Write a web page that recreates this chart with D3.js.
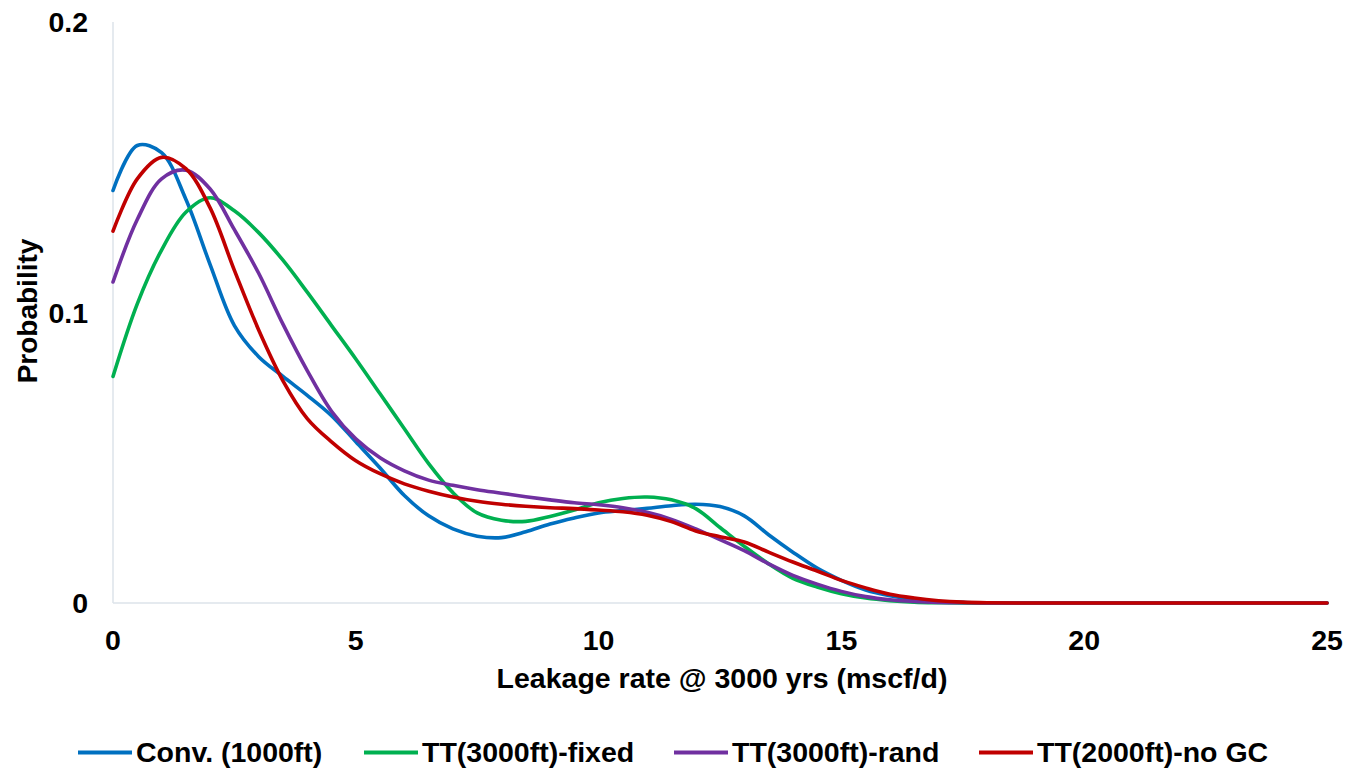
<!DOCTYPE html>
<html><head><meta charset="utf-8">
<script src="https://cdn.jsdelivr.net/npm/d3@7"></script>
<style>body{margin:0;background:#fff}svg{display:block}text{font-family:Arial,"Liberation Sans",sans-serif;font-weight:bold;fill:#000}</style>
</head><body><svg id="c" width="1347" height="770"></svg>
<script>
const xs = [0,0.5,1,1.5,2,2.5,3,3.5,4,4.5,5,5.5,6,6.5,7,7.5,8,8.5,9,9.5,10,10.5,11,11.5,12,12.5,13,13.5,14,14.5,15,15.5,16,16.5,17,17.5,18,19,20,21,22,23,24,25];
const seriesNames = ["Conv. (1000ft)","TT(3000ft)-fixed","TT(3000ft)-rand","TT(2000ft)-no GC"];
const conv = [.142,.1575,.155,.139,.1165,.0955,.0848,.078,.0715,.0645,.0555,.0465,.037,.030,.0255,.023,.0225,.0245,.0272,.0293,.031,.0318,.0326,.0335,.034,.0332,.030,.0235,.0175,.012,.0078,.0045,.0025,.0012,.0005,.0002,0,0,0,0,0,0,0,0];
const fixed = [.078,.103,.1215,.1345,.1395,.135,.1275,.118,.107,.0955,.084,.072,.060,.048,.038,.031,.0285,.0281,.0298,.032,.0345,.036,.0365,.0355,.0325,.026,.0195,.0135,.0085,.0055,.0032,.0017,.0008,.0003,.0001,0,0,0,0,0,0,0,0,0];
const rand = [.1105,.132,.146,.149,.1425,.1285,.1135,.096,.080,.066,.0565,.050,.0455,.0423,.0405,.039,.0378,.0366,.0355,.0345,.0338,.0328,.0312,.0288,.0255,.0218,.018,.0135,.0095,.0065,.004,.0022,.0011,.0005,.0002,.0001,0,0,0,0,0,0,0,0];
const noGC = [.128,.146,.1534,.1495,.136,.1145,.094,.0765,.0635,.0555,.049,.0445,.041,.0385,.0365,.035,.034,.0333,.0328,.0325,.032,.0314,.0302,.028,.0248,.0228,.021,.0175,.0141,.011,.0078,.0052,.003,.0017,.0008,.0003,.0001,0,0,0,0,0,0,0];
const colors = ["#0070C0","#00B050","#7030A0","#C00000"];
const xTicks = [0,5,10,15,20,25];
const yTicks = [0,0.1,0.2];
const yTickLabels = ["0","0.1","0.2"];

const svg = d3.select("#c");
const x = d3.scaleLinear().domain([0,25]).range([113,1327]);
const y = d3.scaleLinear().domain([0,0.2]).range([603,22]);

svg.append("line").attr("x1",x(0)).attr("x2",x(0)).attr("y1",y(0.2)).attr("y2",y(0)).attr("stroke","#dde3ea").attr("stroke-width",1.5);
svg.append("line").attr("x1",x(0)).attr("x2",x(25)).attr("y1",y(0)).attr("y2",y(0)).attr("stroke","#dde3ea").attr("stroke-width",1.5);

svg.selectAll(".xt").data(xTicks).enter().append("text").attr("x",d=>x(d)).attr("y",650).attr("text-anchor","middle").style("font-size","28.5px").text(d=>d);
svg.selectAll(".yt").data(yTicks).enter().append("text").attr("x",88).attr("y",d=>y(d)+10).attr("text-anchor","end").style("font-size","28.5px").text((d,i)=>yTickLabels[i]);

svg.append("text").attr("x",722).attr("y",688).attr("text-anchor","middle").style("font-size","28.5px").text("Leakage rate @ 3000 yrs (mscf/d)");
svg.append("text").attr("transform","translate(37,311) rotate(-90)").attr("text-anchor","middle").style("font-size","28px").text("Probability");

const all = [conv,fixed,rand,noGC];
const line = d3.line().x((d,i)=>x(xs[i])).y(d=>y(Math.max(0,d))).curve(d3.curveCatmullRom.alpha(0.5));
all.forEach((s,k)=>{
  svg.append("path").attr("d",line(s)).attr("fill","none").attr("stroke",colors[k]).attr("stroke-width",3.6).attr("stroke-linecap","round").attr("stroke-linejoin","round");
});

const legX = [78,364,674,979];
seriesNames.forEach((n,k)=>{
  svg.append("line").attr("x1",legX[k]).attr("x2",legX[k]+54).attr("y1",752.5).attr("y2",752.5).attr("stroke",colors[k]).attr("stroke-width",4);
  svg.append("text").attr("x",legX[k]+58).attr("y",762).style("font-size","28.5px").text(n);
});
</script></body></html>
